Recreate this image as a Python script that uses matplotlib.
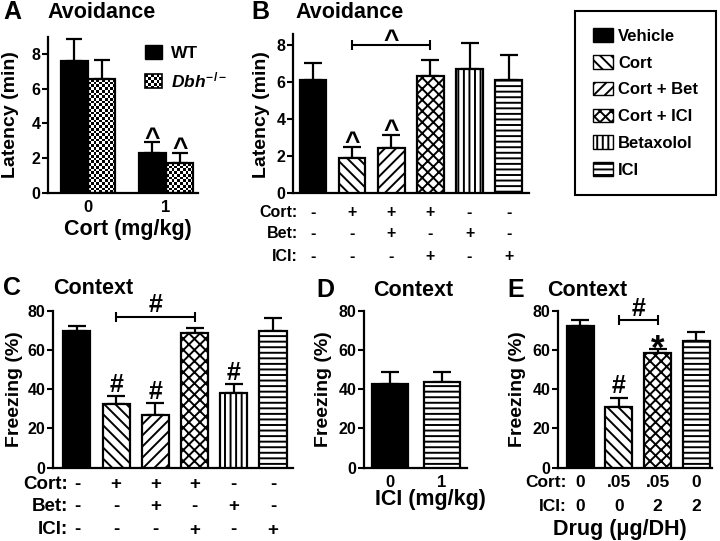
import numpy as np
import matplotlib
matplotlib.use('Agg')
import matplotlib.pyplot as plt
from matplotlib.patches import Patch, Rectangle
from matplotlib.legend_handler import HandlerBase

plt.rcParams['font.family'] = ['Liberation Sans', 'DejaVu Sans']
plt.rcParams['font.weight'] = 'bold'
plt.rcParams['axes.labelweight'] = 'bold'
plt.rcParams['hatch.linewidth'] = 1.4
plt.rcParams['mathtext.fontset'] = 'custom'
plt.rcParams['mathtext.rm'] = 'Liberation Sans:bold'
plt.rcParams['mathtext.it'] = 'Liberation Sans:italic:bold'
plt.rcParams['mathtext.default'] = 'rm'

# ---- data ----
# A: avoidance latency, WT vs Dbh-/-
a_doses = ['0', '1']
a_wt = [7.6, 2.28]
a_wt_err = [1.26, 0.64]
a_dbh = [6.56, 1.71]
a_dbh_err = [1.09, 0.61]

# treatment groups (B, C legend)
groups = ['Vehicle', 'Cort', 'Cort + Bet', 'Cort + ICI', 'Betaxolol', 'ICI']
cort_row = ['-', '+', '+', '+', '-', '-']
bet_row = ['-', '-', '+', '-', '+', '-']
ici_row = ['-', '-', '-', '+', '-', '+']

# B: avoidance latency (min)
b_vals = [6.1, 1.88, 2.42, 6.32, 6.7, 6.1]
b_err = [0.9, 0.61, 0.72, 0.87, 1.43, 1.36]

# C: context freezing (%)
c_vals = [69.7, 32.3, 27.0, 68.5, 37.9, 69.8]
c_err = [2.5, 4.2, 5.8, 2.5, 4.6, 6.6]

# D: freezing vs ICI dose
d_doses = ['0', '1']
d_vals = [42.5, 43.5]
d_err = [6.4, 5.1]

# E: intra-DH infusion
e_groups = ['Vehicle', 'Cort', 'Cort + ICI', 'ICI']
e_cort = ['0', '.05', '.05', '0']
e_ici = ['0', '0', '2', '2']
e_vals = [72.4, 31.1, 58.3, 64.7]
e_err = [2.9, 4.6, 2.0, 4.6]

faces = {'Vehicle': 'black', 'Cort': 'white', 'Cort + Bet': 'white',
         'Cort + ICI': 'white', 'Betaxolol': 'white', 'ICI': 'white'}
hatch = {'Vehicle': None, 'Cort': '\\\\\\', 'Cort + Bet': '///',
         'Cort + ICI': 'xxx', 'Betaxolol': '|||', 'ICI': '---'}

W, H = 720, 541
fig = plt.figure(figsize=(W / 100, H / 100), dpi=100)


def add_ax(left, top, right, bottom):
    return fig.add_axes([left / W, 1 - bottom / H, (right - left) / W, (bottom - top) / H])


def style(ax):
    for s in ['top', 'right']:
        ax.spines[s].set_visible(False)
    for s in ['left', 'bottom']:
        ax.spines[s].set_linewidth(1.6)
    ax.tick_params(axis='y', length=4, width=1.5, pad=1.5, labelsize=11.5)
    ax.tick_params(axis='x', length=0, pad=5, labelsize=12)


def draw_bars(ax, x, vals, errs, names, width=0.69):
    for xi, v, e, n in zip(x, vals, errs, names):
        ax.bar(xi, v, width, color=faces[n], edgecolor='k', linewidth=1.6,
               hatch=hatch[n], zorder=3)
        ax.errorbar(xi, v, yerr=[[0], [e]], fmt='none', ecolor='k',
                    elinewidth=1.6, capsize=6.5, capthick=1.6, zorder=2)


def checker_fill(ax, bar, cell=2.7):
    x0, y0 = bar.get_x(), bar.get_y()
    w, h = bar.get_width(), bar.get_height()
    p0 = ax.transData.transform((x0, y0))
    p1 = ax.transData.transform((x0 + w, y0 + h))
    nx = max(1, int(round((p1[0] - p0[0]) / cell)))
    ny = max(1, int(round((p1[1] - p0[1]) / cell)))
    grid = np.add.outer(np.arange(ny), np.arange(nx)) % 2
    im = ax.imshow(grid, cmap='gray', extent=(x0, x0 + w, y0, y0 + h),
                   aspect='auto', interpolation='nearest', origin='lower', zorder=2.5)
    im.set_clip_path(bar)


class CheckerHandler(HandlerBase):
    def create_artists(self, legend, orig_handle, xdescent, ydescent,
                       width, height, fontsize, trans):
        arts = []
        nx, ny = 6, 5
        cw, ch = width / nx, height / ny
        for i in range(nx):
            for j in range(ny):
                if (i + j) % 2 == 0:
                    arts.append(Rectangle((-xdescent + i * cw, -ydescent + j * ch), cw, ch,
                                          facecolor='k', edgecolor='none', transform=trans))
        arts.append(Rectangle((-xdescent, -ydescent), width, height, fill=False,
                              edgecolor='k', lw=1.2, transform=trans))
        return arts


def ylab(ax, text, x, y, size=14):
    ax.set_ylabel(text, fontsize=size)
    ax.yaxis.set_label_coords(x / W, 1 - y / H, transform=fig.transFigure)
    ax.yaxis.label.set_va('center')


def xlab(ax, text, x, y, size=15.5):
    ax.set_xlabel(text, fontsize=size)
    ax.xaxis.set_label_coords(x / W, 1 - y / H, transform=fig.transFigure)
    ax.xaxis.label.set_va('center')


def rows(ax, labels, rowvals, offsets, label_x, size):
    for lab, vals, off in zip(labels, rowvals, offsets):
        ax.annotate(lab, xy=(label_x, 0), xycoords=('data', 'axes fraction'),
                    xytext=(0, -off * 0.72), textcoords='offset points',
                    ha='right', va='center', fontsize=size, annotation_clip=False)
        for i, v in enumerate(vals):
            ax.annotate(v, xy=(i, 0), xycoords=('data', 'axes fraction'),
                        xytext=(0, -off * 0.72), textcoords='offset points',
                        ha='center', va='center', fontsize=size, annotation_clip=False)


def mark(ax, x, y, s, size, dy):
    ax.annotate(s, xy=(x, y), xytext=(0, dy), textcoords='offset points',
                ha='center', va='baseline', fontsize=size, annotation_clip=False)


def bracket(ax, i, j, y):
    ax.errorbar((i + j) / 2, y, xerr=(j - i) / 2, fmt='none', ecolor='k',
                elinewidth=1.5, capsize=3.5, capthick=1.5, clip_on=False)


def panel_title(letter, lx, title, tx, y):
    fig.text(lx / W, 1 - y / H, letter, ha='center', va='center', fontsize=18)
    fig.text(tx / W, 1 - y / H, title, ha='center', va='center', fontsize=15.5)


# ---- A ----
axA = add_ax(48, 36.6, 198, 193)
style(axA)
axA.set_xlim(-0.51, 1.41)
axA.set_ylim(0, 9)
xa = np.arange(len(a_doses))
bw = 0.35
axA.bar(xa - bw / 2, a_wt, bw, color='black', edgecolor='k', linewidth=1.6, zorder=3)
dbh_bars = axA.bar(xa + bw / 2, a_dbh, bw, facecolor='none', edgecolor='k',
                   linewidth=1.6, zorder=3)
axA.errorbar(xa - bw / 2, a_wt, yerr=[np.zeros(2), a_wt_err], fmt='none', ecolor='k',
             elinewidth=1.6, capsize=6, capthick=1.6, zorder=2)
axA.errorbar(xa + bw / 2, a_dbh, yerr=[np.zeros(2), a_dbh_err], fmt='none', ecolor='k',
             elinewidth=1.6, capsize=6, capthick=1.6, zorder=2)
for b in dbh_bars:
    checker_fill(axA, b)
axA.set_xlim(-0.51, 1.41)
axA.set_ylim(0, 9)
axA.set_yticks([0, 2, 4, 6, 8])
axA.set_xticks(xa, a_doses)
mark(axA, xa[1] - bw / 2, a_wt[1] + a_wt_err[1], '^', 19, -2.5)
mark(axA, xa[1] + bw / 2, a_dbh[1] + a_dbh_err[1], '^', 19, -2.5)
ylab(axA, 'Latency (min)', 11, 115)
xlab(axA, 'Cort (mg/kg)', 128, 230)
wt_h = Patch(facecolor='black', edgecolor='k')
dbh_h = Patch(facecolor='white', edgecolor='k')
axA.legend([wt_h, dbh_h], ['WT', r'$\mathit{Dbh}^{-/-}$'],
           handler_map={dbh_h: CheckerHandler()}, loc='upper left',
           bbox_to_anchor=(145 / W, 1 - 45 / H), bbox_transform=fig.transFigure,
           frameon=False, fontsize=12.5, handlelength=1.0, handleheight=0.85,
           handletextpad=0.5, labelspacing=0.55, borderpad=0, borderaxespad=0)
panel_title('A', 12.5, 'Avoidance', 101.5, 12)

# ---- B ----
axB = add_ax(293, 33.9, 529, 192.7)
style(axB)
xb = np.arange(len(groups))
draw_bars(axB, xb, b_vals, b_err, groups, width=0.68)
axB.set_xlim(-0.51, 5.52)
axB.set_ylim(0, 8.6)
axB.set_yticks([0, 2, 4, 6, 8])
axB.set_xticks([])
for i in [1, 2]:
    mark(axB, i, b_vals[i] + b_err[i], '^', 19, -2.5)
bracket(axB, 1, 3, 8.0)
mark(axB, 2, 8.0, '^', 19, -2.5)
rows(axB, ['Cort:', 'Bet:', 'ICI:'], [cort_row, bet_row, ici_row],
     [19.3, 40.3, 63.3], -0.38, 11.5)
ylab(axB, 'Latency (min)', 262, 115)
panel_title('B', 260, 'Avoidance', 350, 12)

# legend for B/C
handles = [Patch(facecolor=faces[g], edgecolor='k', hatch=hatch[g], linewidth=1) for g in groups]
leg = fig.legend(handles, groups, loc='upper left', bbox_to_anchor=(575 / W, 1 - 11 / H),
                 fontsize=12, frameon=True, fancybox=False, edgecolor='k', framealpha=1,
                 borderpad=1.05, labelspacing=0.68, handlelength=1.2, handleheight=0.85,
                 handletextpad=0.35, borderaxespad=0)
leg.get_frame().set_linewidth(1.5)

# ---- C ----
axC = add_ax(53, 310.7, 293, 467.7)
style(axC)
xc = np.arange(len(groups))
draw_bars(axC, xc, c_vals, c_err, groups)
axC.set_xlim(-0.61, 5.51)
axC.set_ylim(0, 80)
axC.set_yticks([0, 20, 40, 60, 80])
axC.set_xticks([])
for i in [1, 2, 4]:
    mark(axC, i, c_vals[i] + c_err[i], '#', 18, 3)
bracket(axC, 1, 3, 77)
mark(axC, 2, 77, '#', 18, 3)
rows(axC, ['Cort:', 'Bet:', 'ICI:'], [cort_row, bet_row, ici_row],
     [17.3, 39.3, 62.3], -0.23, 13.5)
ylab(axC, 'Freezing (%)', 15, 389)
panel_title('C', 12.5, 'Context', 93, 288)

# ---- D ----
axD = add_ax(364, 310.7, 467, 467.7)
style(axD)
xd = np.arange(len(d_doses))
draw_bars(axD, xd, d_vals, d_err, ['Vehicle', 'ICI'])
axD.set_xlim(-0.5, 1.48)
axD.set_ylim(0, 80)
axD.set_yticks([0, 20, 40, 60, 80])
axD.set_xticks(xd, d_doses)
ylab(axD, 'Freezing (%)', 323, 389)
xlab(axD, 'ICI (mg/kg)', 430, 499)
panel_title('D', 325.5, 'Context', 413.5, 290)

# ---- E ----
axE = add_ax(558, 310.7, 712, 467.7)
style(axE)
xe = np.arange(len(e_groups))
draw_bars(axE, xe, e_vals, e_err, e_groups, width=0.7)
axE.set_xlim(-0.57, 3.4)
axE.set_ylim(0, 80)
axE.set_yticks([0, 20, 40, 60, 80])
axE.set_xticks([])
mark(axE, 1, e_vals[1] + e_err[1], '#', 18, 3)
mark(axE, 2, e_vals[2] + e_err[2], '*', 25, -7)
bracket(axE, 1, 2, 75.3)
mark(axE, 1.5, 75.3, '#', 18, 3)
rows(axE, ['Cort:', 'ICI:'], [e_cort, e_ici], [15.3, 39.3], -0.34, 12.5)
ylab(axE, 'Freezing (%)', 517, 389)
xlab(axE, 'Drug (\u03bcg/DH)', 620, 529)
panel_title('E', 515.5, 'Context', 587, 290)

fig.savefig('out.png', dpi=100, facecolor='white')
plt.close('all')
